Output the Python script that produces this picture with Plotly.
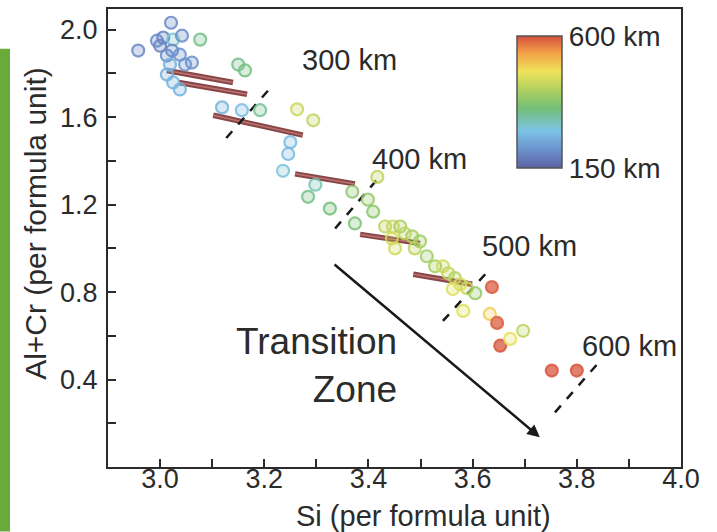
import plotly.graph_objects as go

# Garnet composition: Si vs Al+Cr (per formula unit), colour = equilibration depth (km)
si = [2.958, 2.994, 3.006, 3.021, 3.025, 3.042, 3.077, 3.023, 3.038, 3.000,
      3.013, 3.048, 3.061, 3.019, 3.013, 3.025, 3.038, 3.150, 3.163, 3.119,
      3.157, 3.192, 3.263, 3.294, 3.250, 3.246, 3.236, 3.298, 3.284, 3.326,
      3.369, 3.399, 3.409, 3.374, 3.417, 3.432, 3.447, 3.461, 3.445, 3.470,
      3.484, 3.499, 3.451, 3.489, 3.512, 3.528, 3.543, 3.553, 3.566, 3.576,
      3.589, 3.562, 3.605, 3.582, 3.637, 3.633, 3.647, 3.653, 3.672, 3.697,
      3.752, 3.800]
alcr = [1.905, 1.950, 1.964, 2.032, 1.955, 1.973, 1.955, 1.905, 1.886, 1.927,
        1.882, 1.841, 1.850, 1.841, 1.795, 1.759, 1.727, 1.841, 1.814, 1.645,
        1.632, 1.632, 1.636, 1.586, 1.486, 1.432, 1.355, 1.291, 1.236, 1.182,
        1.259, 1.223, 1.168, 1.114, 1.327, 1.100, 1.100, 1.100, 1.045, 1.068,
        1.055, 1.032, 1.000, 1.000, 0.964, 0.918, 0.918, 0.886, 0.864, 0.836,
        0.818, 0.814, 0.795, 0.714, 0.823, 0.700, 0.659, 0.555, 0.586, 0.623,
        0.441, 0.441]
depth = [200, 205, 195, 200, 290, 205, 340, 200, 210, 195,
         205, 215, 210, 250, 250, 255, 255, 340, 350, 255,
         265, 330, 440, 430, 265, 265, 285, 310, 345, 355,
         380, 390, 380, 360, 430, 430, 440, 410, 450, 430,
         410, 400, 450, 430, 400, 410, 450, 430, 420, 460,
         440, 465, 390, 465, 590, 500, 590, 595, 470, 430,
         595, 595]

# Experimental trend segments (Si start, Si end, Al+Cr start, Al+Cr end)
trend_si = [(3.013, 3.140), (3.036, 3.167), (3.102, 3.274),
            (3.259, 3.374), (3.384, 3.499), (3.486, 3.599)]
trend_alcr = [(1.814, 1.759), (1.759, 1.705), (1.609, 1.518),
              (1.341, 1.295), (1.064, 1.023), (0.882, 0.836)]

# Isobars
iso_labels = ["300 km", "400 km", "500 km", "600 km"]
iso_si = [(3.127, 3.211), (3.336, 3.426), (3.543, 3.633), (3.758, 3.845)]
iso_alcr = [(1.505, 1.732), (1.091, 1.341), (0.668, 0.905), (0.250, 0.486)]
iso_label_si = [3.269, 3.403, 3.614, 3.806]
iso_label_alcr = [1.864, 1.409, 1.009, 0.555]

x_ticks = [3.0, 3.2, 3.4, 3.6, 3.8, 4.0]
y_ticks = [0.4, 0.8, 1.2, 1.6, 2.0]
y_minor = [0.2, 0.6, 1.0, 1.4, 1.8]
depth_range = [150, 600]

FONT = "Liberation Sans, Arial, sans-serif"
TXT = "#2b2b2b"

scale = [
    [0.00, "#5d62a4"],
    [0.14, "#6b92cc"],
    [0.28, "#7cc3e6"],
    [0.45, "#72bf78"],
    [0.60, "#b3d15e"],
    [0.73, "#efe35c"],
    [0.87, "#f2a248"],
    [1.00, "#d6503f"],
]

fig = go.Figure()

# trend segments: dark body with a lighter core
for xs, ys in zip(trend_si, trend_alcr):
    fig.add_trace(go.Scatter(x=list(xs), y=list(ys), mode="lines",
                             line=dict(color="rgba(115,38,38,0.85)", width=5.5),
                             hoverinfo="skip", showlegend=False))
    fig.add_trace(go.Scatter(x=list(xs), y=list(ys), mode="lines",
                             line=dict(color="rgba(205,130,130,0.75)", width=1.5),
                             hoverinfo="skip", showlegend=False))

# isobars
for xs, ys in zip(iso_si, iso_alcr):
    fig.add_trace(go.Scatter(x=list(xs), y=list(ys), mode="lines",
                             line=dict(color="#1a1a1a", width=2.5, dash="dash"),
                             hoverinfo="skip", showlegend=False))

# fill of the data points (deepest samples drawn nearly solid)
fill_opacity = [0.75 if d >= 560 else 0.28 for d in depth]
fig.add_trace(go.Scatter(
    x=si, y=alcr, mode="markers", showlegend=False, hoverinfo="skip",
    marker=dict(symbol="circle", size=12, color=depth, colorscale=scale,
                cmin=depth_range[0], cmax=depth_range[1], opacity=fill_opacity,
                line=dict(width=0)),
))
# coloured rings
fig.add_trace(go.Scatter(
    x=si, y=alcr, mode="markers", showlegend=False,
    marker=dict(symbol="circle-open", size=12, color=depth, colorscale=scale,
                cmin=depth_range[0], cmax=depth_range[1],
                line=dict(width=2.2), opacity=0.85,
                showscale=True,
                colorbar=dict(
                    x=0.714, xanchor="left", y=0.796, yanchor="middle",
                    thickness=45, thicknessmode="pixels",
                    len=132, lenmode="pixels",
                    xpad=0, ypad=0,
                    outlinewidth=1.5, outlinecolor="#555",
                    tickvals=depth_range,
                    ticktext=[f"{d} km" for d in depth_range],
                    ticks="", ticklen=0,
                    tickfont=dict(family=FONT, size=28, color=TXT),
                )),
))

annotations = []
for lab, lx, ly in zip(iso_labels, iso_label_si, iso_label_alcr):
    annotations.append(dict(x=lx, y=ly, xref="x", yref="y", text=lab,
                            showarrow=False, xanchor="left", yanchor="middle",
                            font=dict(family=FONT, size=29, color=TXT)))

annotations.append(dict(x=3.459, y=0.464, xref="x", yref="y",
                        text="Transition<br>Zone", showarrow=False,
                        xanchor="right", yanchor="middle", align="right",
                        font=dict(family=FONT, size=37, color=TXT)))

# arrow across the transition zone
annotations.append(dict(x=3.729, y=0.136, ax=3.332, ay=0.932,
                        xref="x", yref="y", axref="x", ayref="y",
                        text="", showarrow=True, arrowhead=2, arrowsize=1,
                        arrowwidth=2.5, arrowcolor="#1a1a1a"))

# axis titles
annotations.append(dict(x=0.55, y=-0.108, xref="paper", yref="paper",
                        text="Si (per formula unit)", showarrow=False,
                        xanchor="center", yanchor="middle",
                        font=dict(family=FONT, size=29, color=TXT)))
annotations.append(dict(x=-0.1257, y=0.533, xref="paper", yref="paper",
                        text="Al+Cr (per formula unit)", showarrow=False,
                        textangle=-90, xanchor="center", yanchor="middle",
                        font=dict(family=FONT, size=30, color=TXT)))

fig.update_layout(
    width=717, height=532,
    margin=dict(l=108, r=36, t=7, b=65),
    paper_bgcolor="white", plot_bgcolor="white",
    annotations=annotations,
    shapes=[dict(type="rect", xref="paper", yref="paper",
                 x0=-0.1885, x1=-0.171, y0=-0.141, y1=0.913,
                 fillcolor="#6aaa3a", line=dict(width=0), layer="below")],
)

fig.update_xaxes(
    range=[2.9, 4.0], showgrid=False, zeroline=False,
    showline=True, linecolor="#2b2b2b", linewidth=2, mirror=True,
    tickvals=x_ticks, ticktext=[f"{v:.1f}" for v in x_ticks],
    ticks="inside", ticklen=8, tickwidth=2, tickcolor="#2b2b2b",
    minor=dict(dtick=0.1, tick0=2.9, ticks="inside", ticklen=8,
               tickwidth=2, tickcolor="#2b2b2b"),
    ticklabelstandoff=-13,
    tickfont=dict(family=FONT, size=27, color=TXT),
)
fig.update_yaxes(
    range=[0, 2.095], showgrid=False, zeroline=False,
    showline=True, linecolor="#2b2b2b", linewidth=2, mirror=True,
    tickvals=y_ticks, ticktext=[f"{v:.1f}" for v in y_ticks],
    ticks="inside", ticklen=8, tickwidth=2, tickcolor="#2b2b2b",
    minor=dict(tickvals=y_minor, ticks="inside", ticklen=8,
               tickwidth=2, tickcolor="#2b2b2b"),
    ticklabelstandoff=3,
    tickfont=dict(family=FONT, size=27, color=TXT),
)

fig.write_html("out.html")
